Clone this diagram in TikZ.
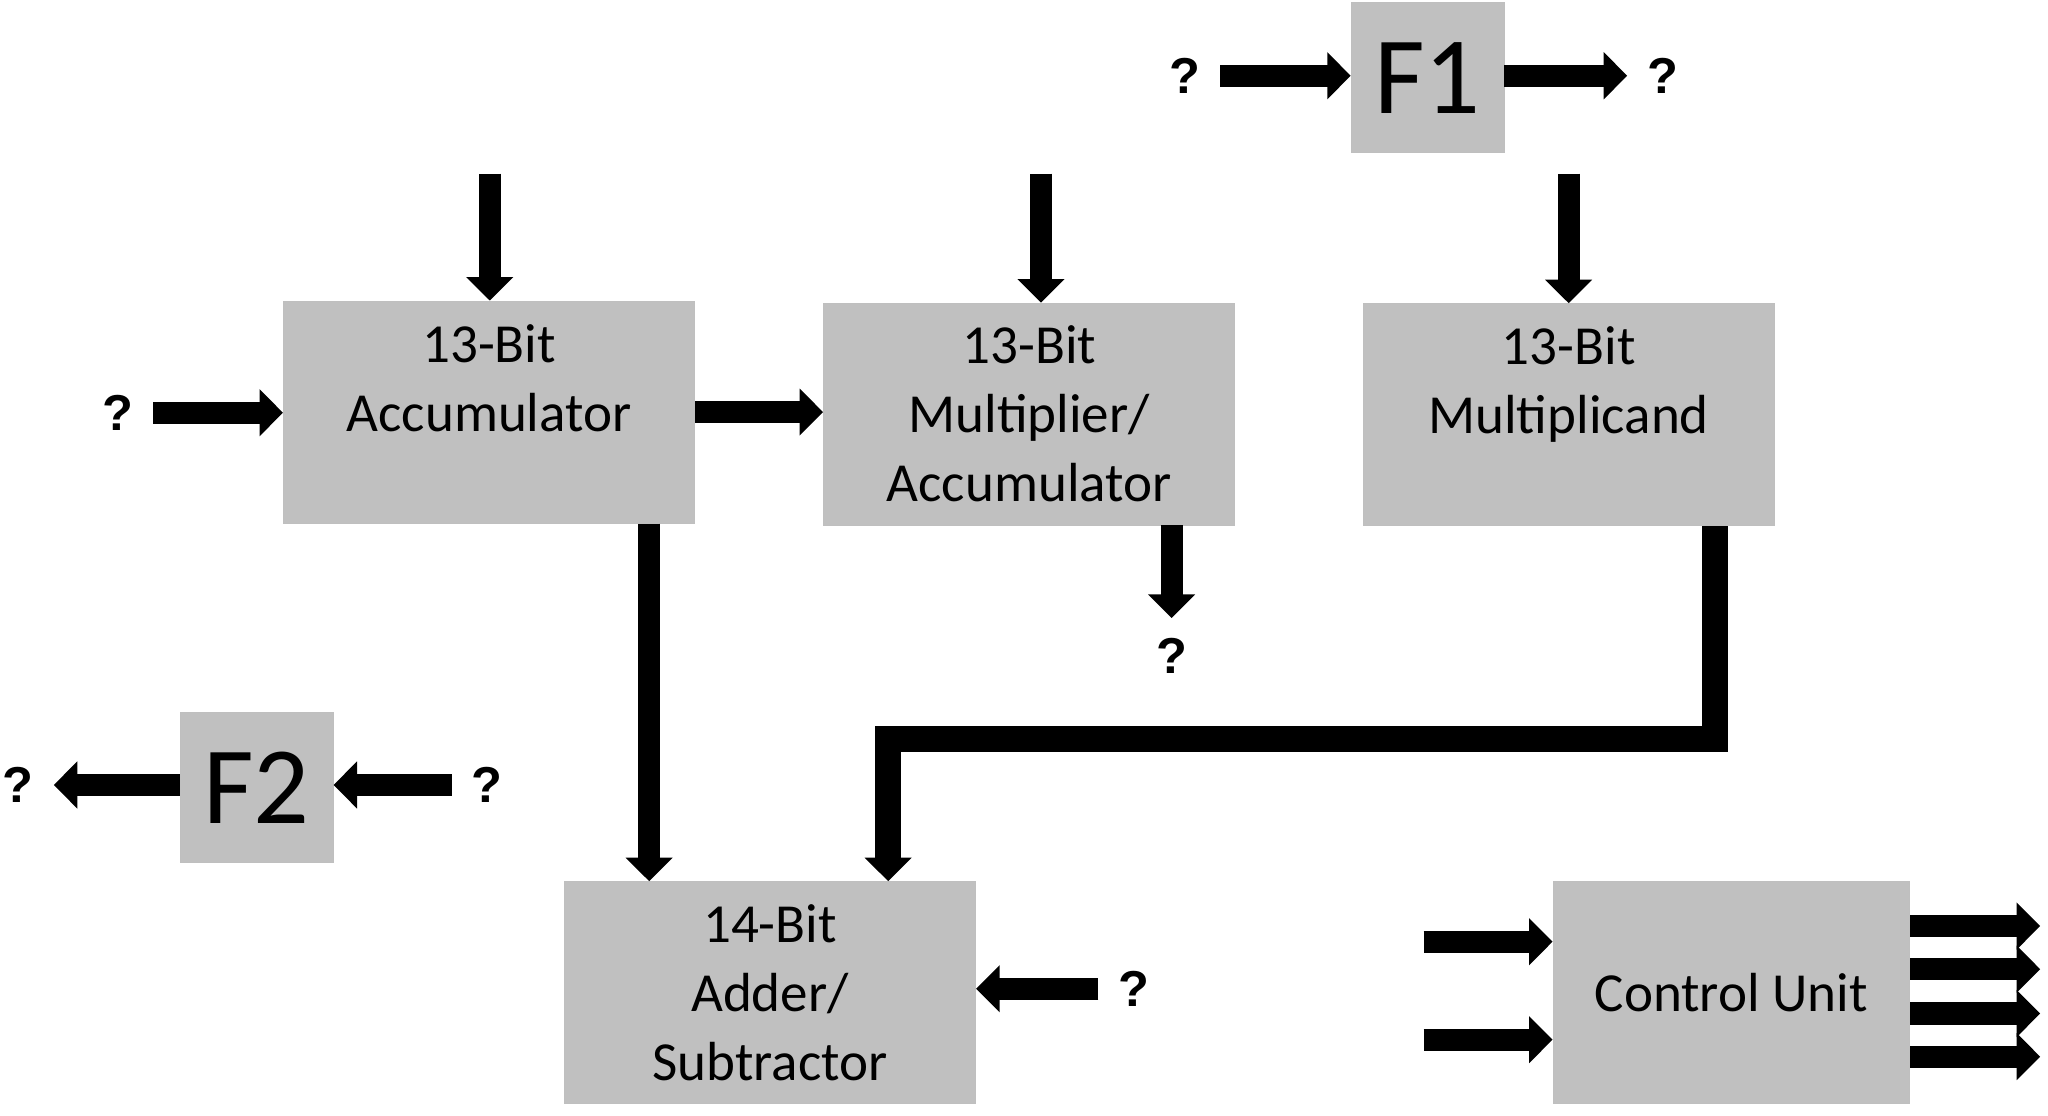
\documentclass[tikz,border=0pt]{standalone}
\usepackage{fontspec}
\setmainfont{Carlito}
\newfontfamily\markfont{Liberation Sans}
\usepackage{tikz}
\usetikzlibrary{arrows.meta, positioning}
\definecolor{boxgray}{RGB}{192,192,192}
\tikzset{%
	every block/.style={
		rectangle,
		fill=boxgray,
		draw=black!25,
		line width=0.4pt,
		inner sep=0pt,
		align=center,
		font=\fontsize{24}{30}\selectfont
	},
	wide block/.style={
		every block,
		minimum width=6.3cm,
		minimum height=3.4cm
	},
	flag block/.style={
		every block,
		minimum width=2.34cm,
		minimum height=2.3cm,
		font=\fontsize{48}{50}\selectfont
	},
	qmark/.style={
		inner sep=0.3cm,
		font=\markfont\bfseries\fontsize{22}{26}\selectfont
	},
	bigarrow/.style={
		line width=0.34cm,
		-{Triangle[length=0.36cm, width=0.7cm]}
	},
	busarrow/.style={
		line width=0.4cm,
		line join=miter,
		-{Triangle[length=0.36cm, width=0.7cm]}
	},
}

\begin{document}
\begin{tikzpicture}[x=0.02cm, y=-0.02cm]
	\useasboundingbox (0,0) rectangle (1568,854);

	\node[wide block] (acc) at (374.5,315.5) {13-Bit\\Accumulator\\\mbox{}};
	\node[wide block] (mac) at (788,317) {13-Bit\\Multiplier/\\Accumulator};
	\node[wide block] (mcand) at (1201,317.5) {13-Bit\\Multiplicand\\\mbox{}};
	\node[wide block] (addsub) at (589.5,760) {14-Bit\\Adder/\\Subtractor};
	\node[wide block, minimum width=5.46cm] (cu) at (1325.5,760) {Control Unit};
	\node[flag block] (f1) at (1093,59.5) {F1};
	\node[flag block] (f2) at (196.5,603) {F2};

	\node[qmark] (qacc) at (90,316) {?};
	\node[qmark] (qmac) at (897,502) {?};
	\node[qmark] (qf1in) at (907,58) {?};
	\node[qmark] (qf1out) at (1273,58) {?};
	\node[qmark] (qf2out) at (14,601) {?};
	\node[qmark] (qf2in) at (373,601) {?};
	\node[qmark] (qadd) at (868,757) {?};

	\coordinate (accin) at (375,133);
	\coordinate (macin) at (797,133);
	\coordinate (mcandin) at (1201,133);
	\coordinate (sumcol) at (497,0);
	\coordinate (bendA) at (1313,566);
	\coordinate (bendB) at (680,566);
	\coordinate (cuin1) at (1090,721);
	\coordinate (cuin2) at (1090,796);

	\draw[bigarrow] (accin) -- (accin |- acc.north);
	\draw[bigarrow] (macin) -- (macin |- mac.north);
	\draw[bigarrow] (mcandin) -- (mcandin |- mcand.north);
	\draw[bigarrow] (qacc.east) -- (qacc.east -| acc.west);
	\draw[bigarrow] (acc.east) -- (acc.east -| mac.west);
	\draw[bigarrow] (mac.south -| qmac) -- (qmac.north);
	\draw[bigarrow] (acc.south -| sumcol) -- (addsub.north -| sumcol);
	\draw[busarrow] (mcand.south -| bendA) -- (bendA) -- (bendB) -- (bendB |- addsub.north);
	\draw[bigarrow] (qf1in.east) -- (qf1in.east -| f1.west);
	\draw[bigarrow] (f1.east |- qf1out.west) -- (qf1out.west);
	\draw[bigarrow] (f2.west |- qf2out.east) -- (qf2out.east);
	\draw[bigarrow] (qf2in.west) -- (qf2in.west -| f2.east);
	\draw[bigarrow] (qadd.west) -- (qadd.west -| addsub.east);
	\draw[bigarrow] (cuin1) -- (cuin1 -| cu.west);
	\draw[bigarrow] (cuin2) -- (cuin2 -| cu.west);
	\foreach \y [count=\i] in {709,742,776,809} {
		\coordinate (cuout\i) at (1562,\y);
		\draw[bigarrow] (cuout\i -| cu.east) -- (cuout\i);
	}

\end{tikzpicture}
\end{document}
